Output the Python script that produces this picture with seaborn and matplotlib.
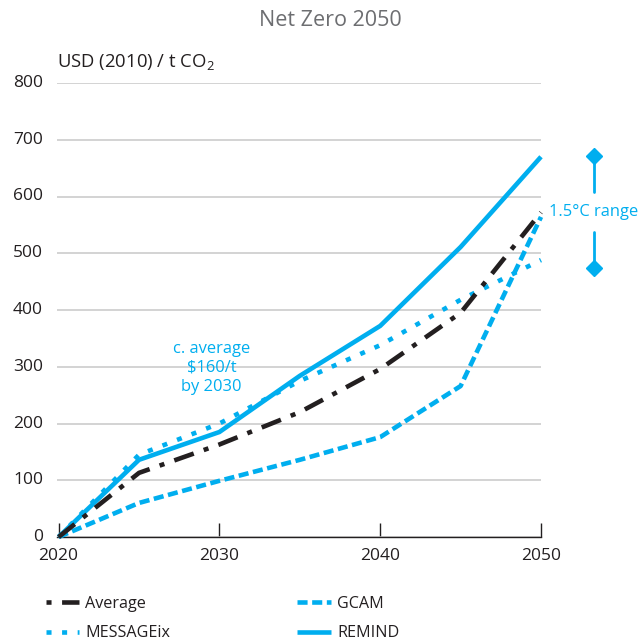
import matplotlib
matplotlib.use("Agg")
import matplotlib.pyplot as plt
import seaborn as sns
import pandas as pd
from matplotlib.lines import Line2D

years = [2020, 2025, 2030, 2035, 2040, 2045, 2050]
average = [0, 113, 163, 220, 296, 395, 572]
messageix = [0, 145, 200, 275, 338, 418, 488]
gcam = [0, 60, 99, 136, 176, 266, 564]
remind = [0, 136, 185, 284, 372, 511, 670]
series_names = ["Average", "MESSAGEix", "GCAM", "REMIND"]
x_ticks = [2020, 2030, 2040, 2050]
y_ticks = [0, 100, 200, 300, 400, 500, 600, 700, 800]
range_low, range_high = 474, 671

sns.set_theme(style="white")
FONT = "Open Sans"
plt.rcParams["font.family"] = [FONT, "DejaVu Sans"]
plt.rcParams["mathtext.fontset"] = "custom"
plt.rcParams["mathtext.rm"] = FONT
plt.rcParams["mathtext.it"] = FONT

BLUE = "#00AEEF"
BLACK = "#231F20"
TXT = "#231F20"
LW = 3.3

fig = plt.figure(figsize=(6.41, 6.41), dpi=100)
ax = fig.add_axes([57/641, 1-537/641, (541-57)/641, (537-83)/641])

data = {"Average": average, "MESSAGEix": messageix, "GCAM": gcam, "REMIND": remind}
styles = {
    "Average": dict(color=BLACK, linestyle=(0, (4.5, 2.3, 1.1, 2.3))),
    "MESSAGEix": dict(color=BLUE, linestyle=(0, (1.1, 2.3))),
    "GCAM": dict(color=BLUE, linestyle=(0, (2.2, 1.0))),
    "REMIND": dict(color=BLUE, linestyle="-"),
}
legend_styles = dict(styles)
legend_styles["Average"] = dict(color=BLACK, linestyle=(6.8, (4.5, 2.3, 1.1, 2.3)))

order_draw = ["GCAM", "MESSAGEix", "REMIND", "Average"]
for name in order_draw:
    df = pd.DataFrame({"year": years, "value": data[name]})
    sns.lineplot(data=df, x="year", y="value", ax=ax, linewidth=LW,
                 color=styles[name]["color"], linestyle=styles[name]["linestyle"],
                 clip_on=False, zorder=3, solid_capstyle="butt", dash_capstyle="butt")

ax.set_xlim(2019.9, 2050)
ax.set_ylim(0, 800)
ax.set_xticks(x_ticks)
ax.set_yticks(y_ticks)
ax.set_xlabel("")
ax.set_ylabel("")
for s in ["left", "right", "top"]:
    ax.spines[s].set_visible(False)
ax.spines["bottom"].set_color("#231F20")
ax.spines["bottom"].set_linewidth(1.0)
ax.yaxis.grid(True, color="#C8C8C8", linewidth=1.1)
ax.xaxis.grid(False)
ax.tick_params(axis="y", length=0, pad=10, labelsize=12.5, labelcolor=TXT)
ax.tick_params(axis="x", direction="in", length=10, width=1, color="#231F20",
               pad=8, labelsize=12.5, labelcolor=TXT, bottom=True)
for lbl in ax.get_yticklabels():
    lbl.set_verticalalignment("center")

fig.text(0.515, 1-21/641, "Net Zero 2050", ha="center", va="center",
         fontsize=15.5, color="#6D6E71")
fig.text(57/641, 1-62/641, "USD (2010) / t CO$_2$", ha="left", va="center",
         fontsize=13.3, color=TXT)

ax.text(2029.5, 298, "c. average\n$160/t\nby 2030", ha="center", va="center",
        fontsize=11.9, color=BLUE, linespacing=1.25)

# 1.5C range annotation
xr = 2053.3
ax.plot([xr, xr], [range_high, 608], color=BLUE, lw=2, clip_on=False)
ax.plot([xr, xr], [537, range_low], color=BLUE, lw=2, clip_on=False)
ax.plot([xr, xr], [range_high, range_low], linestyle="none", marker="D",
        markersize=8, color=BLUE, clip_on=False)
ax.text(xr, 573, "1.5°C range", ha="center", va="center", fontsize=11.9, color=BLUE)

handles = [Line2D([], [], linewidth=LW, solid_capstyle="butt", dash_capstyle="butt", **legend_styles[n])
           for n in series_names]
fig.legend(handles, series_names, loc="upper left", bbox_to_anchor=(31/641, 1-581/641),
           ncol=2, frameon=False, fontsize=11.6, handlelength=2.06, handletextpad=0.4,
           columnspacing=7.9, labelspacing=0.85, labelcolor=TXT)

fig.savefig("out.png", dpi=100)
